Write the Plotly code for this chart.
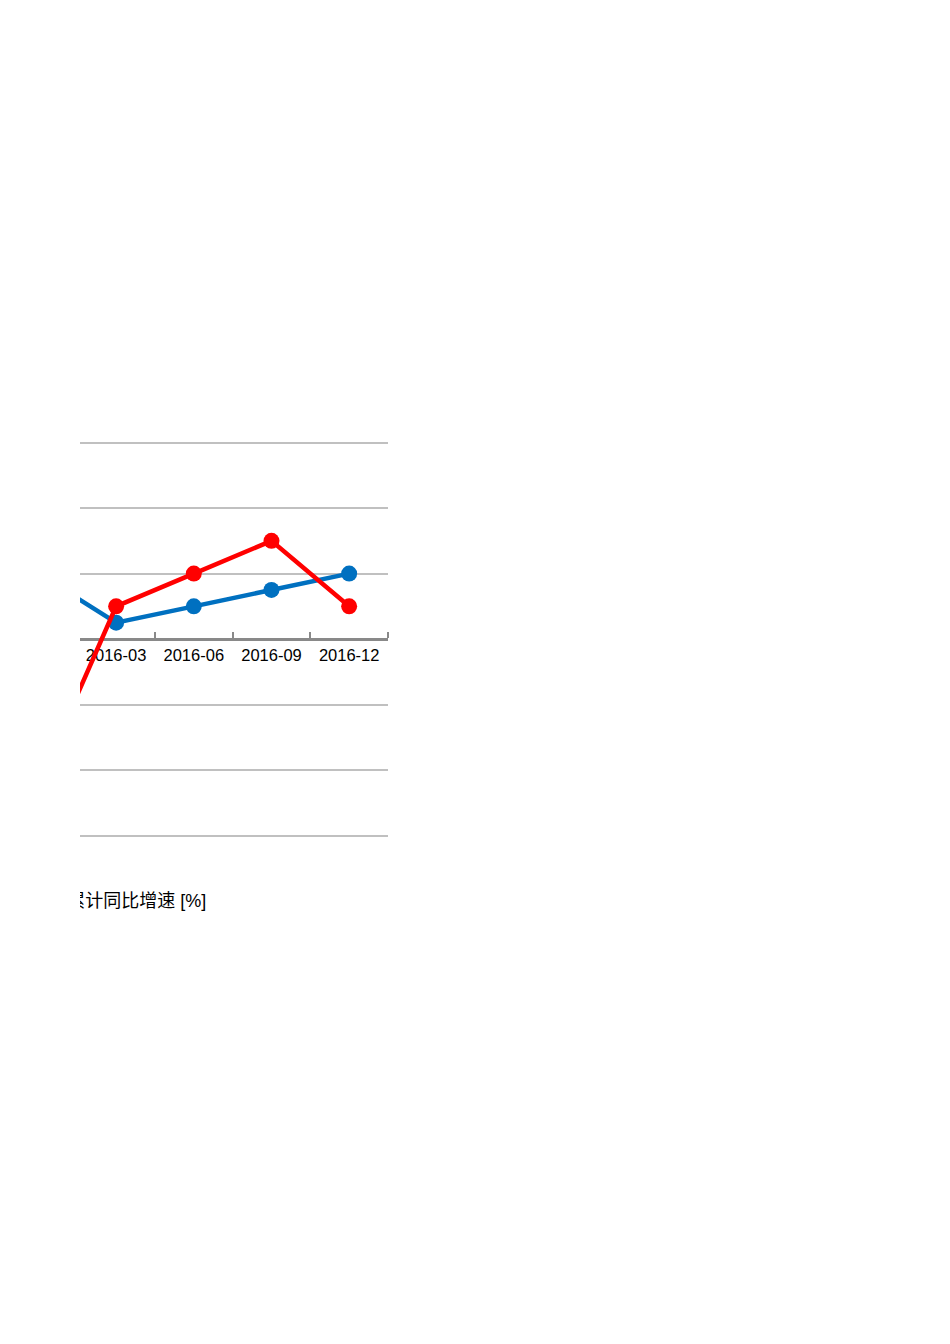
import plotly.graph_objects as go

# quarters (first one sits left of the visible window)
quarters = [0, 1, 2, 3, 4]
quarter_labels = ["2015-12", "2016-03", "2016-06", "2016-09", "2016-12"]
blue_vals = [2.0, 0.5, 1.0, 1.5, 2.0]
red_vals = [-4.4, 1.0, 2.0, 3.0, 1.0]
grid_vals = [-6, -4, -2, 2, 4, 6]
caption = "累计同比增速 [%]"

BLUE = "#0070C0"
RED = "#FF0000"
FONT = "Liberation Sans, Arial, Noto Sans CJK SC, sans-serif"

y_lo, y_hi = -8.58, 6.08

fig = go.Figure()

fig.add_trace(go.Scatter(
    x=quarters, y=blue_vals, mode="lines+markers",
    line=dict(color=BLUE, width=4.5), marker=dict(color=BLUE, size=16),
    showlegend=False, hoverinfo="skip", cliponaxis=True))

fig.add_trace(go.Scatter(
    x=quarters, y=red_vals, mode="lines+markers",
    line=dict(color=RED, width=4.5), marker=dict(color=RED, size=16),
    showlegend=False, hoverinfo="skip", cliponaxis=True))

# caption, cut off on the left like the source
fig.add_trace(go.Scatter(
    x=[0.37], y=[-8.05], mode="text", text=[caption],
    textposition="middle right",
    textfont=dict(size=18, color="#000000", family=FONT),
    showlegend=False, hoverinfo="skip", cliponaxis=True))

fig.update_layout(
    width=934, height=1328,
    margin=dict(l=72, r=554, t=432, b=416),
    paper_bgcolor="white", plot_bgcolor="white",
    font=dict(family=FONT, size=16, color="#000000"),
)

fig.update_xaxes(
    range=[0.535, 4.5],
    tickmode="array", tickvals=quarters[1:], ticktext=quarter_labels[1:],
    ticks="", showgrid=False, zeroline=False,
    showline=True, linecolor="#898989", linewidth=2.5,
    anchor="free", position=(0 - y_lo) / (y_hi - y_lo),
    layer="below traces",
    tickfont=dict(size=16.5, color="#000000"),
    minor=dict(ticks="inside", tickmode="array", tickvals=[1.5, 2.5, 3.5, 4.5],
               ticklen=6, tickwidth=2, tickcolor="#898989", showgrid=False),
)

fig.update_yaxes(
    range=[y_lo, y_hi],
    tickmode="array", tickvals=grid_vals, showticklabels=False,
    showgrid=True, gridcolor="#c0c0c0", gridwidth=2,
    zeroline=False, showline=False, ticks="",
)

fig.write_html("out.html")
